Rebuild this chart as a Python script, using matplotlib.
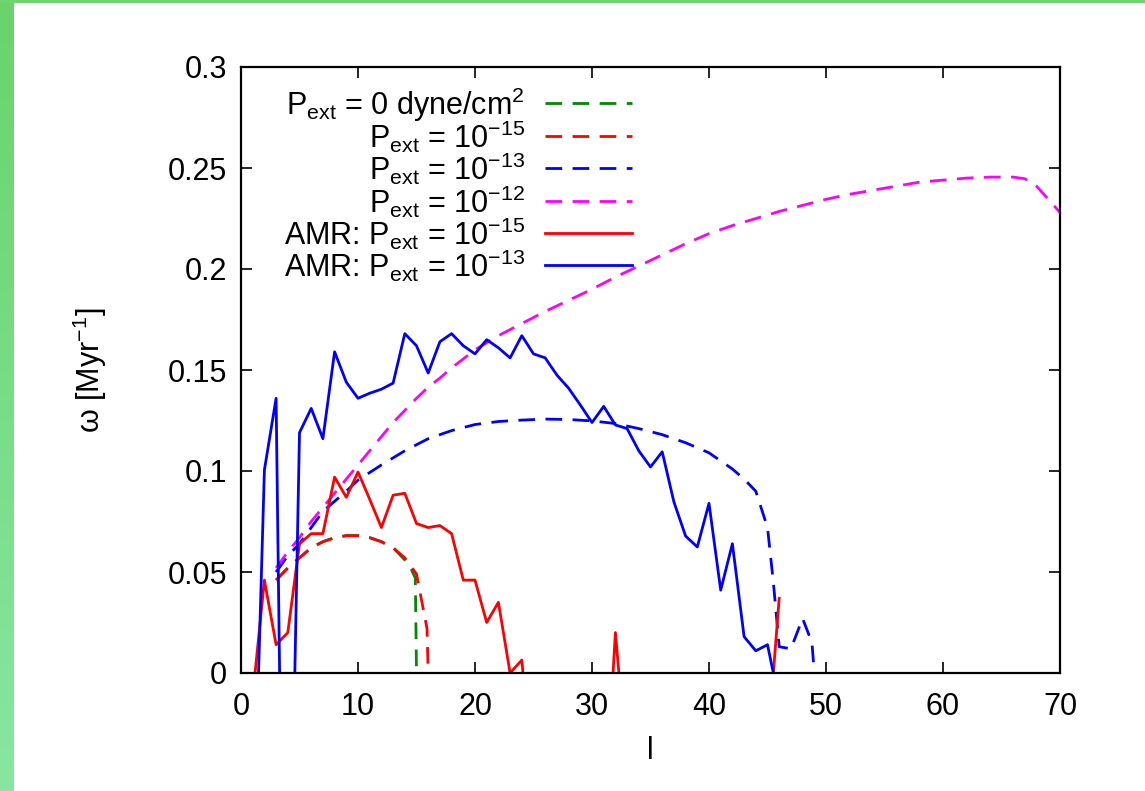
import numpy as np
import matplotlib
matplotlib.use("Agg")
import matplotlib.pyplot as plt
from matplotlib.colors import LinearSegmentedColormap

plt.rcParams['font.family'] = ['Liberation Sans', 'DejaVu Sans']
plt.rcParams['mathtext.fontset'] = 'custom'
plt.rcParams['mathtext.rm'] = 'Liberation Sans'
plt.rcParams['mathtext.it'] = 'Liberation Sans:italic'
plt.rcParams['mathtext.default'] = 'regular'
plt.rcParams['lines.scale_dashes'] = False

nan = np.nan

# ---- dispersion curves omega(l) ----
# P_ext = 0
l_p0 = [3, 4, 5, 6, 7, 8, 9, 10, 11, 12, 13, 14, 14.5, 14.9, 15.0]
w_p0 = [0.046, 0.052, 0.057, 0.062, 0.065, 0.067, 0.068, 0.068, 0.067,
        0.065, 0.062, 0.056, 0.052, 0.047, 0.0]

# P_ext = 1e-15
l_p15 = [3, 4, 5, 6, 7, 8, 9, 10, 11, 12, 13, 14, 15, 15.9, 16.0]
w_p15 = [0.046, 0.052, 0.057, 0.062, 0.065, 0.067, 0.068, 0.068, 0.067,
         0.065, 0.062, 0.057, 0.049, 0.022, 0.0]

# P_ext = 1e-13
l_p13 = [3, 4, 5, 6, 7, 8, 9, 10, 12, 14, 16, 18, 20, 22, 24, 26, 28, 30,
         32, 34, 36, 38, 40, 42, 43, 44, 45, 45.5, 46, 47, 48, 48.8, 49]
w_p13 = [0.050, 0.058, 0.064, 0.072, 0.080, 0.085, 0.090, 0.0955, 0.103,
         0.110, 0.116, 0.120, 0.123, 0.1245, 0.1252, 0.1257, 0.1255, 0.1248,
         0.1235, 0.121, 0.118, 0.114, 0.109, 0.101, 0.096, 0.090, 0.072,
         0.045, 0.013, 0.012, 0.027, 0.015, 0.0]

# P_ext = 1e-12
l_p12 = [3, 4, 5, 6, 7, 8, 9, 10, 11, 12, 13, 14, 15, 16, 17, 18, 19, 20,
         22, 24, 26, 28, 30, 32, 34, 36, 38, 40, 42, 44, 46, 48, 50, 52, 54,
         56, 58, 60, 62, 64, 66, 67, 68, 70]
w_p12 = [0.052, 0.060, 0.067, 0.075, 0.082, 0.089, 0.096, 0.103, 0.110,
         0.117, 0.124, 0.130, 0.136, 0.1415, 0.146, 0.151, 0.1555, 0.160,
         0.167, 0.173, 0.179, 0.1845, 0.190, 0.196, 0.2015, 0.207, 0.2125,
         0.2175, 0.2215, 0.225, 0.2285, 0.2315, 0.2345, 0.237, 0.239, 0.241,
         0.243, 0.244, 0.245, 0.2455, 0.2455, 0.2447, 0.241, 0.228]

# AMR, P_ext = 1e-15
l_amr15 = [1.2, 2, 3, 4, 5, 6, 7, 8, 9, 10, 11, 12, 13, 14, 15, 16, 17, 18,
           19, 20, 21, 22, 23, 24, 24.1, nan, 31.8, 32, 32.3, nan, 45.5, 46]
w_amr15 = [0.0, 0.046, 0.014, 0.020, 0.064, 0.069, 0.069, 0.097, 0.087,
           0.0995, 0.086, 0.072, 0.088, 0.089, 0.074, 0.072, 0.073, 0.069,
           0.046, 0.046, 0.025, 0.035, 0.0, 0.0064, 0.0, nan, 0.0, 0.020,
           0.0, nan, 0.0, 0.037]

# AMR, P_ext = 1e-13
l_amr13 = [1.5, 2, 3, 3.3, nan, 4.6] + list(range(5, 46)) + [45.5]
w_amr13 = [0.0, 0.1005, 0.136, 0.0, nan, 0.0,
           0.119, 0.131, 0.116, 0.159, 0.144, 0.136, 0.1385, 0.1405, 0.1435,
           0.168, 0.162, 0.1485, 0.164, 0.168, 0.162, 0.158, 0.165, 0.161,
           0.156, 0.167, 0.158, 0.156, 0.1475, 0.141, 0.1327, 0.124, 0.132,
           0.1228, 0.121, 0.110, 0.102, 0.1095, 0.0847, 0.0678, 0.0624,
           0.084, 0.041, 0.064, 0.018, 0.011, 0.014, 0.0]

labels = [r'$P_{ext}$ = 0 dyne/cm$^{2}$',
          r'$P_{ext}$ = 10$^{-15}$',
          r'$P_{ext}$ = 10$^{-13}$',
          r'$P_{ext}$ = 10$^{-12}$',
          r'AMR: $P_{ext}$ = 10$^{-15}$',
          r'AMR: $P_{ext}$ = 10$^{-13}$']

x_ticks = [0, 10, 20, 30, 40, 50, 60, 70]
y_ticks = [0, 0.05, 0.1, 0.15, 0.2, 0.25, 0.3]
y_ticklabels = ['0', '0.05', '0.1', '0.15', '0.2', '0.25', '0.3']

FS = 22
LW = 2.0
DASH = (12, 7.5)

fig = plt.figure(figsize=(11.45, 7.91), dpi=100)

# green slide border on the left and top
bg = LinearSegmentedColormap.from_list('bg', ['#6ad36a', '#88e6a2'])
strip = fig.add_axes([0, 0, 13 / 1145, 1])
strip.imshow(np.linspace(0, 1, 256).reshape(-1, 1), aspect='auto', cmap=bg,
             extent=[0, 1, 0, 1])
strip.set_axis_off()
top = fig.add_axes([0, 1 - 3 / 791, 1, 3 / 791])
top.set_facecolor('#70d570')
top.set_xticks([])
top.set_yticks([])
for s in top.spines.values():
    s.set_visible(False)

ax = fig.add_axes([241 / 1145, 1 - 673 / 791, 819 / 1145, 606 / 791])

series = [
    (l_p0, w_p0, '#008a00', DASH),
    (l_p15, w_p15, '#ff0000', DASH),
    (l_p13, w_p13, '#0000ff', DASH),
    (l_p12, w_p12, '#ff00ff', DASH),
    (l_amr15, w_amr15, '#ff0000', None),
    (l_amr13, w_amr13, '#0000ff', None),
]
for lx, wy, col, dash in series:
    line, = ax.plot(lx, wy, color=col, lw=LW)
    if dash is not None:
        line.set_dashes(dash)

ax.set_xlim(0, 70)
ax.set_ylim(0, 0.3)
ax.set_xticks(x_ticks)
ax.set_yticks(y_ticks)
ax.set_yticklabels(y_ticklabels)
ax.tick_params(direction='in', length=8, width=1.2, top=True, right=True,
               labelsize=FS)
ax.tick_params(axis='x', pad=14)
ax.tick_params(axis='y', pad=10)
for s in ax.spines.values():
    s.set_linewidth(1.6)

ax.set_xlabel('l', fontsize=FS, labelpad=10)
ax.set_ylabel(r'ω [Myr$^{-1}$]', fontsize=FS, labelpad=42)

# key: right-aligned text followed by a line sample
text_x = (525 - 241) / 819
s0 = (545 - 241) / 819
s1 = (632 - 241) / 819
row_px = [103, 136, 168, 201, 233, 265]
for (lx, wy, col, dash), lab, py in zip(series, labels, row_px):
    yy = (673 - py) / 606
    ax.text(text_x, yy - 12 / 606, lab, transform=ax.transAxes, ha='right',
            va='baseline', fontsize=FS)
    kl, = ax.plot([s0, s1], [yy, yy], transform=ax.transAxes, color=col,
                  lw=LW, clip_on=False)
    if dash is not None:
        kl.set_dashes(dash)

fig.savefig('out.png', dpi=100)
